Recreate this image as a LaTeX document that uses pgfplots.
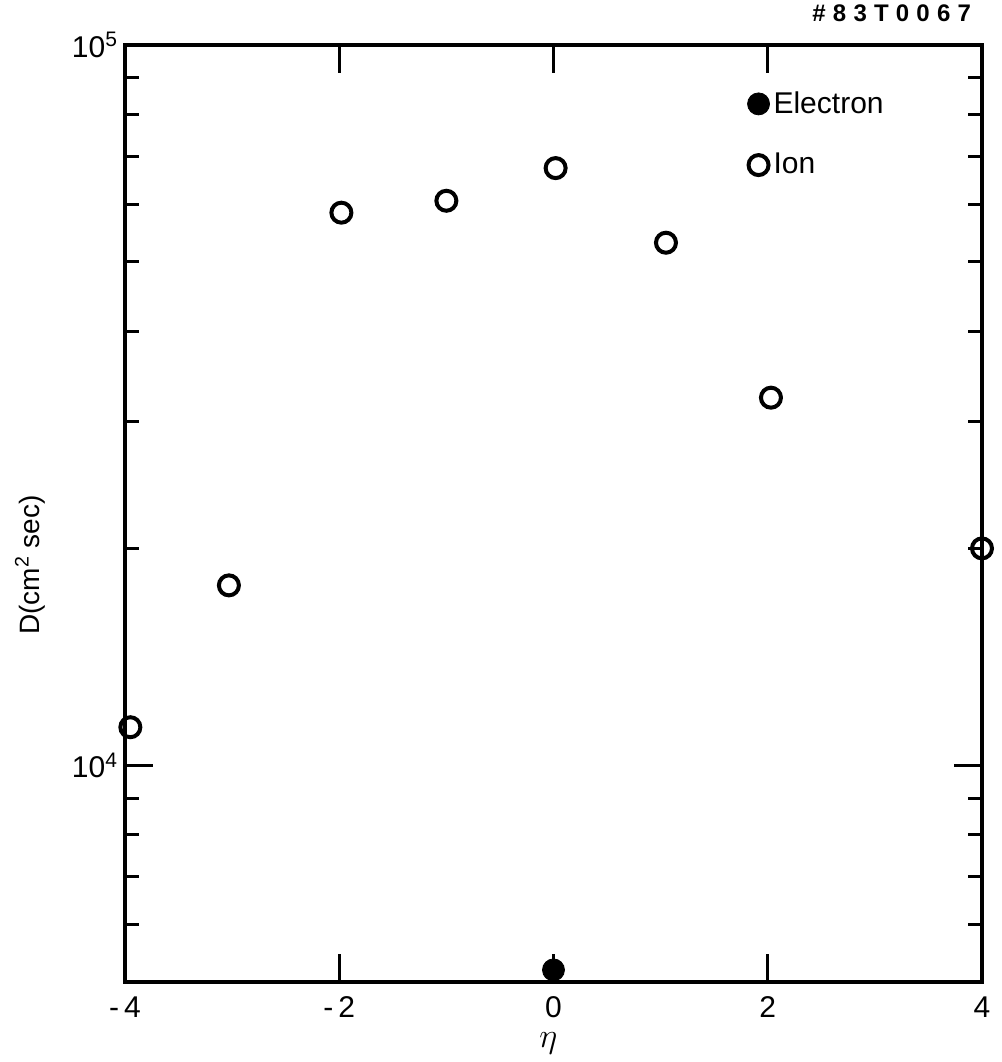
\documentclass[border=0pt]{standalone}
\usepackage{fontspec}
\setmainfont{Liberation Sans}
\usepackage{pgfplots}
\usetikzlibrary{calc}
\pgfplotsset{compat=1.18}
\begin{document}
\begin{tikzpicture}
\begin{axis}[
  scale only axis,
  width=428.5pt, height=468.5pt,
  ymode=log,
  xmin=-4, xmax=4,
  ymin=5000, ymax=100000,
  clip=false,
  axis line style={line width=2pt},
  tick style={line width=1.5pt, black},
  major tick length=14pt,
  minor tick length=7pt,
  tick align=inside,
  xtick={-4,-2,0,2,4},
  xticklabels={-\,4,-\,2,0,2,4},
  ytick={10000,100000},
  yticklabels={10\textsuperscript{4},10\textsuperscript{5}},
  minor ytick={6000,7000,8000,9000,20000,30000,40000,50000,60000,70000,80000,90000},
  xticklabel style={font=\fontsize{15}{17}\selectfont, yshift=-4pt},
  yticklabel style={font=\fontsize{15}{17}\selectfont},
  xlabel={$\eta$},
  xlabel style={font=\fontsize{17}{19}\selectfont, at={(axis description cs:0.494,-0.066)}, anchor=center},
  ylabel={D(cm\textsuperscript{2} sec)},
  ylabel style={font=\fontsize{14}{16}\selectfont, at={(axis description cs:-0.111,0.445)}, anchor=center, rotate=0},
  legend style={draw=none, fill=none, at={(axis description cs:0.726,0.955)}, anchor=north west,
    font=\fontsize{15}{17}\selectfont, row sep=14.5pt, inner sep=0pt},
  legend cell align=left,
]
\addplot[only marks, mark=*, mark size=5.5pt, fill=black, draw=black] coordinates {
  (0,5196)
};
\addlegendentry{Electron}
\addplot[only marks, mark=o, mark size=5pt, line width=2pt, black] coordinates {
  (-3.95,11290) (-3.03,17770) (-1.98,58500) (-1.0,60770) (0.02,67460)
  (1.05,53140) (2.03,32380) (4.0,20000)
};
\addlegendentry{Ion}
\node[anchor=south east, font=\bfseries\fontsize{12}{14}\selectfont\addfontfeature{LetterSpace=30}] at (rel axis cs:1,1) [xshift=-2pt, yshift=8pt] {\#83T0067};
\end{axis}
\pgfresetboundingbox
\path (current axis.south west) ++(-62.5pt,-40pt) coordinate (bbl);
\path (current axis.north east) ++(10pt,22.5pt) coordinate (bur);
\useasboundingbox (bbl) rectangle (bur);
\end{tikzpicture}
\end{document}
